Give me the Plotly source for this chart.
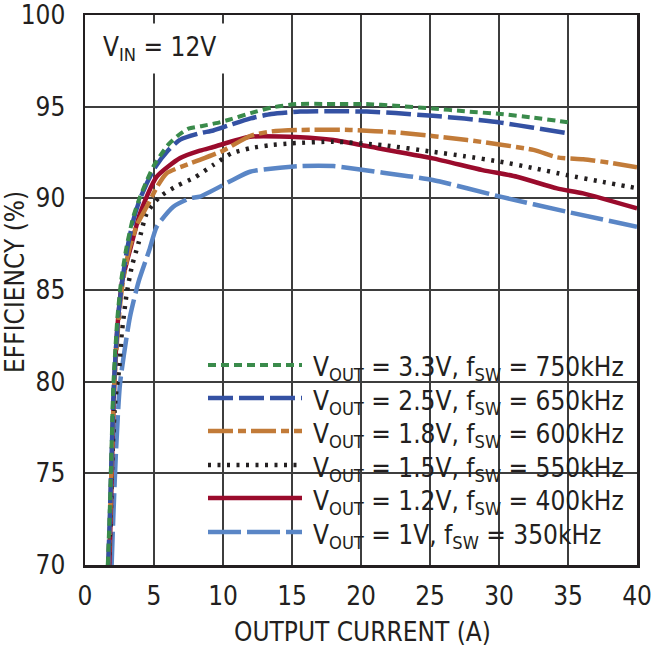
import plotly.graph_objects as go

# ---------------- data ----------------
x_33 = [1.65, 1.78, 1.92, 2.06, 2.35, 2.62, 3.0, 3.5, 4.0, 4.5, 5.0, 6.0, 6.7, 7.5, 8.5, 9.5, 10.5, 12.0, 13.5, 15.3, 17.5, 20.4, 22.5, 25.2, 27.5, 30.1, 32.5, 35.0]
y_33 = [70.0, 72.6, 76.3, 79.9, 83.5, 85.5, 87.3, 89.0, 90.1, 91.0, 91.8, 92.9, 93.4, 93.8, 93.95, 94.1, 94.3, 94.65, 94.95, 95.14, 95.15, 95.14, 95.05, 94.9, 94.75, 94.6, 94.4, 94.15]

x_25 = [1.68, 1.8, 1.94, 2.1, 2.4, 2.7, 3.05, 3.5, 4.0, 5.0, 6.0, 6.9, 8.3, 9.3, 10.5, 12.0, 13.5, 15.6, 18.0, 20.4, 22.5, 25.2, 27.5, 30.1, 32.5, 35.0]
y_25 = [70.0, 72.6, 76.3, 79.9, 83.5, 85.5, 87.2, 88.8, 90.0, 91.6, 92.6, 93.2, 93.55, 93.7, 94.0, 94.36, 94.6, 94.73, 94.75, 94.73, 94.65, 94.5, 94.35, 94.13, 93.85, 93.55]

x_18 = [1.7, 1.82, 1.96, 2.12, 2.45, 2.75, 3.2, 3.8, 4.47, 5.2, 5.9, 7.6, 8.33, 10.0, 11.96, 13.5, 15.6, 19.2, 22.8, 27.7, 32.5, 34.2, 36.1, 38.0, 40.0]
y_18 = [70.0, 72.6, 76.3, 79.9, 83.5, 85.5, 87.2, 88.6, 89.54, 90.6, 91.36, 91.9, 92.1, 92.6, 93.4, 93.65, 93.73, 93.73, 93.58, 93.18, 92.64, 92.24, 92.13, 91.95, 91.7]

x_15 = [1.72, 1.86, 2.0, 2.2, 2.49, 2.66, 3.02, 3.4, 3.87, 4.47, 5.43, 6.64, 7.97, 9.3, 10.6, 11.96, 13.4, 15.0, 18.0, 21.6, 25.2, 27.5, 30.1, 32.5, 34.9, 37.5, 40.0]
y_15 = [70.0, 72.6, 76.3, 79.0, 80.8, 82.6, 84.8, 86.3, 87.54, 89.18, 90.09, 90.67, 91.15, 91.82, 92.45, 92.73, 92.9, 93.0, 93.09, 92.9, 92.54, 92.3, 92.0, 91.65, 91.27, 90.9, 90.55]

x_12 = [1.76, 1.86, 1.98, 2.12, 2.41, 2.7, 3.26, 4.0, 5.2, 6.9, 8.33, 9.3, 11.96, 15.6, 18.0, 20.4, 25.2, 28.8, 31.3, 34.2, 36.1, 40.0]
y_12 = [70.0, 72.6, 76.27, 79.9, 83.54, 85.5, 87.18, 89.2, 91.18, 92.2, 92.6, 92.8, 93.36, 93.33, 93.18, 92.85, 92.18, 91.54, 91.18, 90.54, 90.27, 89.45]

x_10 = [1.93, 2.05, 2.25, 2.54, 3.26, 3.9, 4.66, 5.2, 6.4, 7.6, 8.33, 10.7, 11.96, 15.6, 18.0, 21.6, 25.2, 30.1, 34.9, 40.0]
y_10 = [70.0, 72.6, 76.27, 79.9, 83.54, 85.5, 87.18, 88.45, 89.54, 90.0, 90.09, 91.0, 91.45, 91.76, 91.76, 91.4, 91.0, 90.09, 89.27, 88.45]

labels = [
    "V<sub>OUT</sub> = 3.3V, f<sub>SW</sub> = 750kHz",
    "V<sub>OUT</sub> = 2.5V, f<sub>SW</sub> = 650kHz",
    "V<sub>OUT</sub> = 1.8V, f<sub>SW</sub> = 600kHz",
    "V<sub>OUT</sub> = 1.5V, f<sub>SW</sub> = 550kHz",
    "V<sub>OUT</sub> = 1.2V, f<sub>SW</sub> = 400kHz",
    "V<sub>OUT</sub> = 1V, f<sub>SW</sub> = 350kHz",
]
x_ticks = [0, 5, 10, 15, 20, 25, 30, 35, 40]
y_ticks = [70, 75, 80, 85, 90, 95, 100]

# ---------------- style ----------------
FONT = "DejaVu Sans Condensed, Liberation Sans Narrow, sans-serif"
TXT = "#231f20"
FS = 26
styles = [
    dict(color="#3a8b4b", width=4, dash="8px,5px"),
    dict(color="#3451a3", width=4.5, dash="25px,6px"),
    dict(color="#c27b38", width=4.5, dash="25px,5px,8px,5px"),
    dict(color="#231f20", width=4.5, dash="3px,6.5px"),
    dict(color="#9a0b2c", width=4.5, dash="solid"),
    dict(color="#5a86c6", width=4.5, dash="33px,6px"),
]
series = [(x_33, y_33), (x_25, y_25), (x_18, y_18), (x_15, y_15), (x_12, y_12), (x_10, y_10)]

fig = go.Figure()
order = [5, 4, 3, 2, 1, 0]
for i in order:
    xs, ys = series[i]
    fig.add_trace(go.Scatter(x=xs, y=ys, mode="lines", name=labels[i],
                             line=dict(shape="spline", smoothing=0.6, **styles[i]),
                             showlegend=False, hoverinfo="skip", cliponaxis=True))

L, R, T, B = 85, 14, 15, 85
W, H = 651, 650
pw, ph = W - L - R, H - T - B

def px2paper_x(px):
    return (px - L) / pw

def py2paper_y(py):
    return (H - B - py) / ph

shapes = []
annotations = []
shapes.append(dict(type="rect", xref="paper", yref="paper",
                   x0=px2paper_x(193), x1=1, y0=py2paper_y(560), y1=py2paper_y(340),
                   fillcolor="white", line=dict(width=0), layer="between"))

leg_y = [365, 398, 431, 465, 498, 532]
for i in range(6):
    yy = py2paper_y(leg_y[i])
    shapes.append(dict(type="line", xref="paper", yref="paper",
                       x0=px2paper_x(208), x1=px2paper_x(302), y0=yy, y1=yy,
                       line=dict(color=styles[i]["color"], width=styles[i]["width"],
                                 dash=styles[i]["dash"]), layer="above"))
    annotations.append(dict(xref="paper", yref="paper", x=px2paper_x(311), y=py2paper_y(leg_y[i] + 4),
                            xanchor="left", yanchor="middle", text=labels[i], showarrow=False,
                            font=dict(family=FONT, size=FS, color=TXT)))

annotations.append(dict(xref="paper", yref="paper", x=px2paper_x(94), y=py2paper_y(49),
                        xanchor="left", yanchor="middle", text="V<sub>IN</sub> = 12V",
                        showarrow=False, bgcolor="white", borderpad=8,
                        font=dict(family=FONT, size=FS, color=TXT)))
annotations.append(dict(xref="paper", yref="paper", x=px2paper_x(15), y=py2paper_y(282),
                        xanchor="center", yanchor="middle", text="EFFICIENCY (%)", textangle=-90,
                        showarrow=False, font=dict(family=FONT, size=FS, color=TXT)))
annotations.append(dict(xref="paper", yref="paper", x=px2paper_x(362), y=py2paper_y(632),
                        xanchor="center", yanchor="middle", text="OUTPUT CURRENT (A)",
                        showarrow=False, font=dict(family=FONT, size=FS, color=TXT)))

axis_common = dict(showgrid=True, gridcolor="#3d3d3d", gridwidth=1.8,
                   showline=True, mirror=True, linecolor=TXT, linewidth=2.5,
                   ticks="", zeroline=False, automargin=False, ticklabeloverflow="allow",
                   tickfont=dict(family=FONT, size=FS, color=TXT))

fig.update_layout(
    width=W, height=H,
    margin=dict(l=L, r=R, t=T, b=B, autoexpand=False),
    paper_bgcolor="white", plot_bgcolor="white",
    showlegend=False,
    shapes=shapes, annotations=annotations,
    xaxis=dict(range=[0, 40], tickvals=x_ticks, ticktext=[str(v) for v in x_ticks],
               ticklabelstandoff=6, **axis_common),
    yaxis=dict(range=[70, 100], tickvals=y_ticks, ticktext=[str(v) for v in y_ticks],
               ticklabelstandoff=12, **axis_common),
)

fig.write_html("out.html", config={"displayModeBar": False, "staticPlot": True},
               post_script="document.body.style.margin='0';document.body.style.padding='0';")
